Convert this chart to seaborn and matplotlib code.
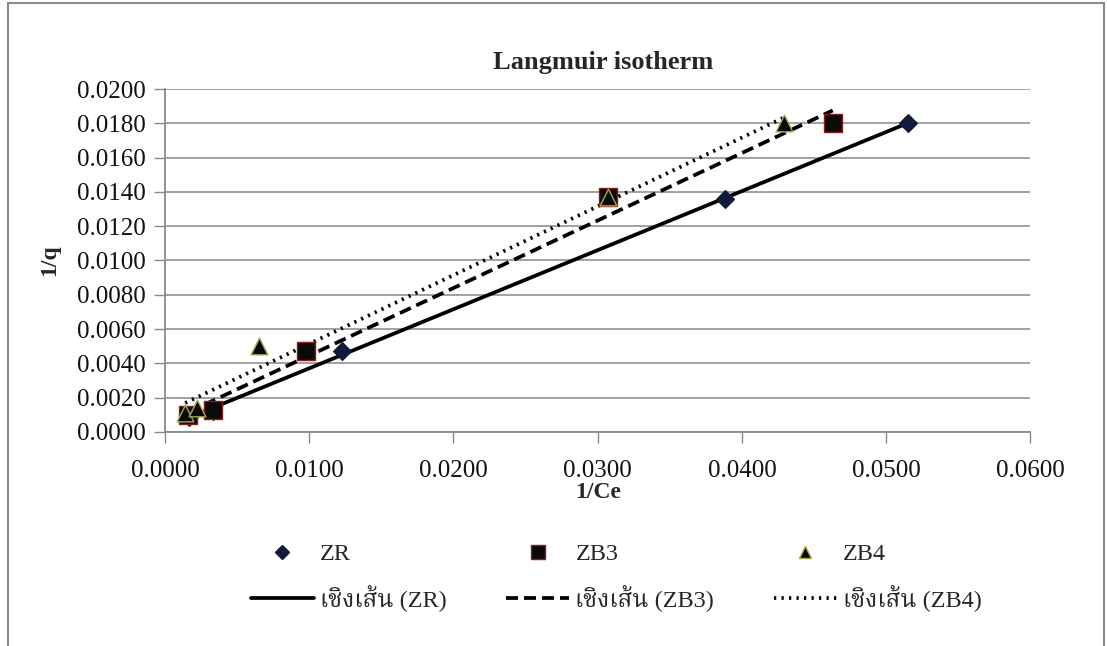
import matplotlib
matplotlib.use("Agg")
import matplotlib.pyplot as plt
from matplotlib.lines import Line2D
from matplotlib.patches import Rectangle
import numpy as np
import pandas as pd
import seaborn as sns

# Langmuir linearisation: 1/q against 1/Ce for three adsorbents
zr_x = [0.0017, 0.0033, 0.0123, 0.0388, 0.0515]
zr_y = [0.0009, 0.0012, 0.0047, 0.0136, 0.0180]
zb3_x = [0.0016, 0.0033, 0.0098, 0.0307, 0.0463]
zb3_y = [0.0010, 0.0013, 0.0047, 0.0137, 0.0180]
zb4_x = [0.0014, 0.0022, 0.0065, 0.0307, 0.0429]
zb4_y = [0.0011, 0.0014, 0.0050, 0.0137, 0.0180]

series_names = ["ZR", "ZB3", "ZB4"]
trend_labels = ["เชิงเส้น (ZR)", "เชิงเส้น (ZB3)", "เชิงเส้น (ZB4)"]
title_text = "Langmuir isotherm"
x_label = "1/Ce"
y_label = "1/q"
x_ticks = [0.0, 0.01, 0.02, 0.03, 0.04, 0.05, 0.06]
y_ticks = [0.0, 0.002, 0.004, 0.006, 0.008, 0.010, 0.012, 0.014, 0.016, 0.018, 0.020]

sns.set_theme(style="white")
plt.rcParams["font.family"] = ["Liberation Serif", "Noto Serif Thai", "Sarabun",
                               "Noto Sans Thai", "DejaVu Sans"]
plt.rcParams["mathtext.default"] = "regular"

df = pd.concat([
    pd.DataFrame({"x": zr_x, "y": zr_y, "s": "ZR"}),
    pd.DataFrame({"x": zb3_x, "y": zb3_y, "s": "ZB3"}),
    pd.DataFrame({"x": zb4_x, "y": zb4_y, "s": "ZB4"}),
], ignore_index=True)

styles = {
    "ZR":  dict(marker="D", face="#0f1a3c", edge="#0f1a3c", size=9, lsize=7.5, ls="-"),
    "ZB3": dict(marker="s", face="#0a0a0a", edge="#8a1c1c", size=12.5, lsize=9.5,
                ls=(0, (3.2, 1.6))),
    "ZB4": dict(marker="^", face="#0a0a0a", edge="#a8a84a", size=12, lsize=8.5,
                ls=(0, (0.6, 1.4))),
}

fig = plt.figure(figsize=(11.07, 6.46), dpi=100)
ax = fig.add_axes([0.149, 0.3313, 0.7818, 0.5309])

handles = []
for name, tlab in zip(series_names, trend_labels):
    d = df[df["s"] == name]
    st = styles[name]
    # least-squares trend line over the range of each series
    k, b = np.polyfit(d["x"], d["y"], 1)
    xs = np.array([d["x"].min(), d["x"].max()])
    ax.plot(xs, k * xs + b, color="black", lw=2.7, ls=st["ls"], zorder=2,
            solid_capstyle="butt", dash_capstyle="butt")
    sns.scatterplot(data=d, x="x", y="y", ax=ax, marker=st["marker"],
                    s=st["size"] ** 2, color=st["face"], edgecolor=st["edge"],
                    linewidth=1.0, zorder=3, legend=False)
    handles.append(Line2D([], [], ls="none", marker=st["marker"],
                          markersize=st["lsize"], markerfacecolor=st["face"],
                          markeredgecolor=st["edge"], label=name))
    handles.append(Line2D([], [], color="black", lw=2.7, ls=st["ls"], label=tlab))

ax.set_xlim(0, 0.06)
ax.set_ylim(0, 0.020)
ax.set_xticks(x_ticks)
ax.set_yticks(y_ticks)
ax.set_xticklabels(["%.4f" % v for v in x_ticks])
ax.set_yticklabels(["%.4f" % v for v in y_ticks])
ax.tick_params(axis="both", labelsize=18, length=8, width=1.0,
               direction="out", left=True, bottom=True, colors="#8a8a8a",
               labelcolor="#111111")
ax.tick_params(axis="x", pad=12)
ax.tick_params(axis="y", pad=6)
ax.yaxis.grid(True, color="#9a9a9a", lw=1.3)
ax.xaxis.grid(False)
for side in ["top", "right"]:
    ax.spines[side].set_visible(False)
for side in ["left", "bottom"]:
    ax.spines[side].set_color("#8a8a8a")
    ax.spines[side].set_linewidth(1.3)

ax.set_xlabel(x_label, fontsize=17, fontweight="bold", labelpad=0)
ax.set_ylabel(y_label, fontsize=17, fontweight="bold", labelpad=12)
fig.text(0.545, 0.885, title_text, ha="center", va="bottom",
         fontsize=19, fontweight="bold")

leg = ax.legend(handles=handles, ncol=3, loc="upper center",
                bbox_to_anchor=(0.5215, -0.26), frameon=False, fontsize=17.5,
                handlelength=2.6, handletextpad=0.25, columnspacing=2.45,
                labelspacing=0.82)

# outer chart border
fig.patches.append(Rectangle((0.007, -0.01), 0.99, 1.006, transform=fig.transFigure,
                             fill=False, edgecolor="#8c8c8c", lw=1.5))

fig.savefig("out.png", dpi=100)
